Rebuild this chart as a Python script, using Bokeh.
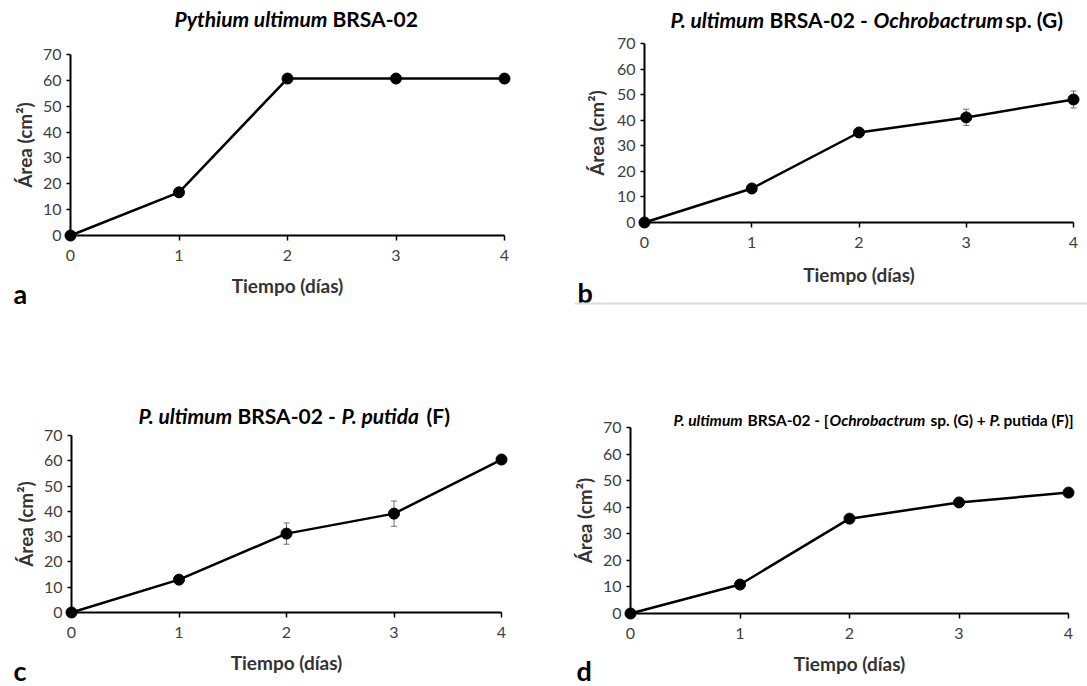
import numpy as np
from bokeh.plotting import figure
from bokeh.models import (ColumnDataSource, Label, Whisker, TeeHead, Range1d,
                          FixedTicker, Arrow)
from bokeh.layouts import column, row
from bokeh.embed import file_html
from bokeh.resources import INLINE

# ---------------- data ----------------
dias = [0, 1, 2, 3, 4]
x_ticks = [0, 1, 2, 3, 4]
y_ticks = [0, 10, 20, 30, 40, 50, 60, 70]

area_a = [0, 16.7, 60.7, 60.7, 60.7]
err_a = [0, 0.4, 0.4, 0.4, 0.4]

area_b = [0, 13.3, 35.2, 41.1, 48.1]
err_b = [0, 1.0, 1.0, 3.2, 3.3]

area_c = [0, 13.0, 31.2, 39.1, 60.5]
err_c = [0, 1.0, 4.2, 5.0, 0.6]

area_d = [0, 10.9, 35.7, 41.8, 45.5]
err_d = [0, 0.5, 0.6, 0.6, 0.6]

x_label = "Tiempo (días)"
y_label = "Área (cm²)"

title_a = [("Pythium ultimum", "bold italic"), ("BRSA-02", "bold")]
title_b = [("P. ultimum", "bold italic"), ("BRSA-02 -", "bold"),
           ("Ochrobactrum", "bold italic"), ("sp. (G)", "bold")]
title_c = [("P. ultimum", "bold italic"), ("BRSA-02 -", "bold"),
           ("P. putida", "bold italic"), ("(F)", "bold")]
title_d = [("P. ultimum", "bold italic"), ("BRSA-02 - [", "bold"),
           ("Ochrobactrum", "bold italic"), ("sp. (G) +", "bold"),
           ("P.", "bold italic"), ("putida (F)]", "bold")]
panel_letters = ["a", "b", "c", "d"]

FONT = "Lato"


def make_panel(ox, oy, W, H, x0, x4, y0, y70, values, errors, title,
               title_xs, title_y, title_size, ylab_x, xlab_y, letter,
               letter_xy, letter_baseline="alphabetic"):
    # all pixel arguments are in picture coordinates
    sx = (x4 - x0) / 4.0
    sy = (y0 - y70) / 70.0
    p = figure(width=W, height=H,
               x_range=Range1d((ox - x0) / sx, (ox + W - x0) / sx),
               y_range=Range1d((y0 - (oy + H)) / sy, (y0 - oy) / sy),
               min_border=0, min_border_left=0, min_border_right=0,
               min_border_top=0, min_border_bottom=0,
               output_backend="svg", toolbar_location=None)
    p.outline_line_color = None
    p.grid.visible = False
    p.background_fill_color = "white"
    p.border_fill_color = "white"

    def X(px):
        return (px - x0) / sx

    def Y(py):
        return (y0 - py) / sy

    for ax in (p.xaxis[0], p.yaxis[0]):
        ax.axis_line_width = 2
        ax.axis_line_color = "black"
        ax.major_tick_line_color = "black"
        ax.major_tick_line_width = 1.5
        ax.major_tick_in = 0
        ax.minor_tick_line_color = None
        ax.major_label_text_font = FONT
        ax.major_label_text_font_size = "16px"
        ax.major_label_text_color = "#404040"
    p.xaxis.major_tick_out = 5
    p.yaxis.major_tick_out = 4
    p.xaxis.ticker = FixedTicker(ticks=x_ticks)
    p.yaxis.ticker = FixedTicker(ticks=y_ticks)
    p.xaxis.fixed_location = 0
    p.yaxis.fixed_location = 0
    p.xaxis.bounds = (x_ticks[0], x_ticks[-1])
    p.yaxis.bounds = (y_ticks[0], y_ticks[-1])
    p.xaxis.major_label_standoff = 9
    p.yaxis.major_label_standoff = 5

    src = ColumnDataSource(dict(x=dias, y=values,
                                lo=[v - e for v, e in zip(values, errors)],
                                hi=[v + e for v, e in zip(values, errors)]))
    w = Whisker(source=src, base="x", lower="lo", upper="hi",
                line_color="#6f6f6f", line_width=1,
                upper_head=TeeHead(size=6, line_color="#6f6f6f", line_width=1),
                lower_head=TeeHead(size=6, line_color="#6f6f6f", line_width=1))
    p.add_layout(w)
    p.line("x", "y", source=src, line_color="black", line_width=2.5)
    p.scatter("x", "y", source=src, size=11, marker="circle",
              fill_color="black", line_color="black")

    # title segments
    for (txt, style), tx in zip(title, title_xs):
        p.add_layout(Label(x=X(tx), y=Y(title_y), text=txt, text_font=FONT,
                           text_font_size=title_size, text_font_style=style,
                           text_color="black", text_align="left",
                           text_baseline="middle"))
    # axis labels
    p.add_layout(Label(x=X(ylab_x), y=Y((y0 + y70) / 2.0), text=y_label,
                       angle=np.pi / 2, text_font=FONT, text_font_size="19px",
                       text_font_style="bold", text_color="#333333",
                       text_align="center", text_baseline="middle"))
    p.add_layout(Label(x=X((x0 + x4) / 2.0), y=Y(xlab_y), text=x_label,
                       text_font=FONT, text_font_size="19px",
                       text_font_style="bold", text_color="#333333",
                       text_align="center", text_baseline="middle"))
    p.add_layout(Label(x=X(letter_xy[0]), y=Y(letter_xy[1]), text=letter,
                       text_font=FONT, text_font_size="27px",
                       text_font_style="bold", text_color="black",
                       text_align="left", text_baseline=letter_baseline))
    return p, X, Y


pa, Xa, Ya = make_panel(0, 0, 540, 310, 70, 504, 235, 54,
                        area_a, err_a, title_a, [174, 332], 18, "21px",
                        24, 285, panel_letters[0], (13, 293))
pb, Xb, Yb = make_panel(540, 0, 547, 310, 644, 1073, 222, 43,
                        area_b, err_b, title_b,
                        [670, 769, 873, 1005], 19, "21px",
                        596, 274, panel_letters[1], (577, 292))
pb.add_layout(Arrow(x_start=Xb(574), y_start=Yb(303),
                    x_end=Xb(1095), y_end=Yb(303), end=None,
                    line_color="#dcdcdc", line_width=2))
pc, Xc, Yc = make_panel(0, 310, 540, 376, 71, 501, 612, 435,
                        area_c, err_c, title_c,
                        [138, 237, 341, 426], 415, "21px",
                        25, 662, panel_letters[2], (13, 686), "bottom")
pd_, Xd, Yd = make_panel(540, 310, 547, 376, 630, 1068, 613, 427,
                         area_d, err_d, title_d,
                         [673, 747, 829, 930, 989, 1003], 419, "15.5px",
                         584, 663, panel_letters[3], (576, 686), "bottom")

layout = column(row(pa, pb), row(pc, pd_))
open("out.html", "w").write(file_html(layout, INLINE))
